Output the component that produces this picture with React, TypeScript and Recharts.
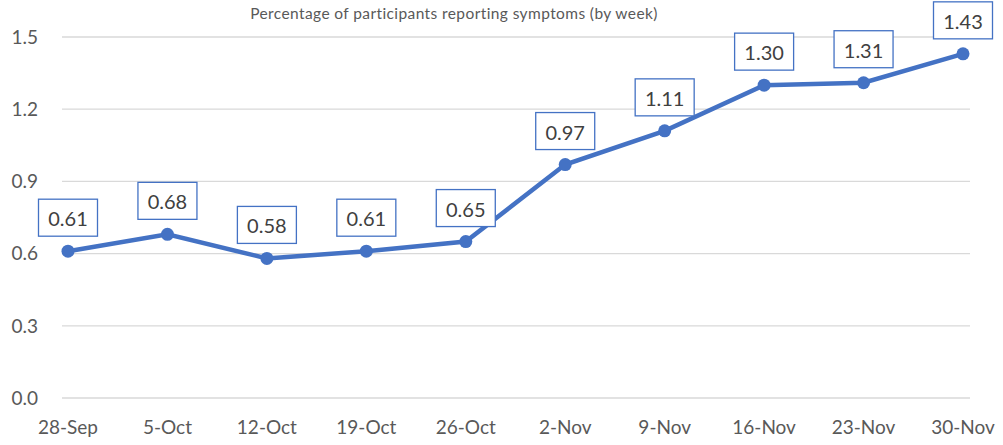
import { LineChart, Line, XAxis, YAxis, CartesianGrid, LabelList } from 'recharts'

const weeks = ['28-Sep', '5-Oct', '12-Oct', '19-Oct', '26-Oct', '2-Nov', '9-Nov', '16-Nov', '23-Nov', '30-Nov']
const percentages = [0.61, 0.68, 0.58, 0.61, 0.65, 0.97, 1.11, 1.3, 1.31, 1.43]
const yTicks = [0, 0.3, 0.6, 0.9, 1.2, 1.5]

const data = weeks.map((week, i) => ({ week, value: percentages[i] }))

const BLUE = '#4472C4'
const FONT = 'Lato, "Open Sans", sans-serif'

function BoxLabel(props: any) {
    const { x, y, value } = props
    if (x == null || y == null) return null
    return (
        <g>
            <rect x={x - 29.5} y={y - 52} width={59} height={37} fill="#fff" stroke={BLUE} strokeWidth={1.3} />
            <text
                x={x}
                y={y - 33}
                textAnchor="middle"
                dominantBaseline="central"
                fontSize={20}
                fontFamily={FONT}
                fill="#404040"
            >
                {Number(value).toFixed(2)}
            </text>
        </g>
    )
}

export default function App() {
    return (
        <div style={{ position: 'fixed', left: 0, top: 0, width: 1003, height: 445, background: '#fff' }}>
            <div
                style={{
                    position: 'absolute',
                    left: 0,
                    width: 908,
                    top: 4,
                    textAlign: 'center',
                    fontFamily: FONT,
                    fontSize: 15.5,
                    letterSpacing: 0.4,
                    color: '#595959',
                }}
            >
                Percentage of participants reporting symptoms (by week)
            </div>
            <LineChart width={1003} height={445} data={data} margin={{ top: 37, right: 33, left: 0, bottom: 0 }}>
                <CartesianGrid vertical={false} stroke="#d9d9d9" strokeWidth={1.3} />
                <XAxis
                    dataKey="week"
                    height={47}
                    axisLine={false}
                    tickLine={false}
                    tickSize={0}
                    tickMargin={23}
                    padding={{ left: 6, right: 7 }}
                    interval={0}
                    tick={{ fill: '#595959', fontSize: 19, fontFamily: FONT }}
                />
                <YAxis
                    width={62}
                    domain={[0, 1.5]}
                    ticks={yTicks}
                    axisLine={false}
                    tickLine={false}
                    tickSize={0}
                    tickMargin={24}
                    tickFormatter={(v: number) => v.toFixed(1)}
                    tick={{ fill: '#595959', fontSize: 19, fontFamily: FONT }}
                />
                <Line
                    type="linear"
                    dataKey="value"
                    stroke={BLUE}
                    strokeWidth={4.5}
                    dot={{ r: 6.5, fill: BLUE, stroke: 'none' }}
                    isAnimationActive={false}
                >
                    <LabelList dataKey="value" content={<BoxLabel />} />
                </Line>
            </LineChart>
        </div>
    )
}
